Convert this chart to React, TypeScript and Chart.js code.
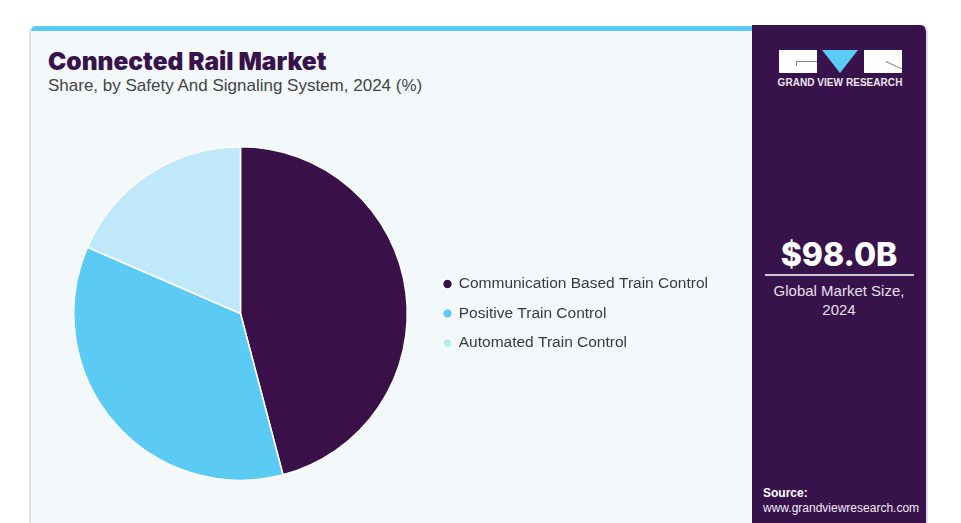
import React, { useEffect, useRef } from "react";
import { Chart, registerables } from "chart.js";

Chart.register(...registerables);

const categories = [
  "Communication Based Train Control",
  "Positive Train Control",
  "Automated Train Control",
];
const shares = [45.9, 35.6, 18.5];
const sliceColors = ["#3a1049", "#5bcaf5", "#bfe9f9"];

const titleText = "Connected Rail Market";
const subtitleText = "Share, by Safety And Signaling System, 2024 (%)";
const marketValue = "$98.0B";
const marketLabel = ["Global Market Size,", "2024"];
const sourceLabel = "Source:";
const sourceUrl = "www.grandviewresearch.com";

const PANEL = "#38124a";
const SANS = '"Liberation Sans", Arial, sans-serif';

export default function App() {
  const canvasRef = useRef<HTMLCanvasElement | null>(null);

  useEffect(() => {
    if (!canvasRef.current) return;
    const chart = new Chart(canvasRef.current, {
      type: "pie",
      data: {
        labels: categories,
        datasets: [
          {
            data: shares,
            backgroundColor: sliceColors,
            borderColor: "#ffffff",
            borderWidth: 1.5,
          },
        ],
      },
      options: {
        responsive: false,
        animation: false,
        devicePixelRatio: 1,
        layout: { padding: 0 },
        plugins: {
          tooltip: { enabled: false },
          legend: {
            position: "right",
            align: "center",
            labels: {
              usePointStyle: true,
              pointStyle: "circle",
              boxWidth: 7,
              boxHeight: 7,
              padding: 14,
              color: "#3a3a3a",
              font: { family: SANS, size: 15.5 },
            },
          },
        },
      },
    });
    return () => chart.destroy();
  }, []);

  return (
    <div
      style={{
        position: "fixed",
        left: 0,
        top: 0,
        width: 961,
        height: 523,
        overflow: "hidden",
        background: "#ffffff",
        fontFamily: SANS,
      }}
    >
      {/* card */}
      <div
        style={{
          position: "absolute",
          left: 29,
          top: 26,
          width: 740,
          height: 520,
          background: "#f3f8fb",
          borderLeft: "2px solid #dde2e6",
          borderTopLeftRadius: 6,
          overflow: "hidden",
        }}
      >
        <div
          style={{
            position: "absolute",
            left: 0,
            top: 0,
            width: "100%",
            height: 5,
            background: "#5bcaf5",
          }}
        />
      </div>
      {/* title */}
      <div
        style={{
          position: "absolute",
          left: 48,
          top: 46,
          fontFamily: "Inter, sans-serif",
          fontWeight: 900,
          fontSize: 24.5,
          color: "#38124a",
          whiteSpace: "nowrap",
          lineHeight: "30px",
        }}
      >
        {titleText}
      </div>
      <div
        style={{
          position: "absolute",
          left: 48,
          top: 76,
          fontSize: 17,
          color: "#444",
          whiteSpace: "nowrap",
          lineHeight: "20px",
        }}
      >
        {subtitleText}
      </div>

      <canvas
        ref={canvasRef}
        width={667}
        height={335}
        style={{ position: "absolute", left: 51, top: 146, width: 667, height: 335 }}
      />

      {/* right panel */}
      <div
        style={{
          position: "absolute",
          left: 752,
          top: 25,
          width: 174,
          height: 520,
          background: PANEL,
          borderTopRightRadius: 7,
          borderRight: "2px solid #e4dcea",
        }}
      />
      {/* logo */}
      <div style={{ position: "absolute", left: 779, top: 50, width: 38, height: 23, background: "#fff" }}>
        <div style={{ position: "absolute", left: 17, top: 11, width: 21, height: 1, background: "#8a8a8a" }} />
        <div style={{ position: "absolute", left: 17, top: 11, width: 1, height: 5, background: "#8a8a8a" }} />
      </div>
      <div
        style={{
          position: "absolute",
          left: 822,
          top: 50,
          width: 0,
          height: 0,
          borderLeft: "18px solid transparent",
          borderRight: "18px solid transparent",
          borderTop: "23px solid #5bcaf5",
        }}
      />
      <div style={{ position: "absolute", left: 864, top: 50, width: 38, height: 23, background: "#fff", overflow: "hidden" }}>
        <div
          style={{
            position: "absolute",
            left: 22,
            top: 11,
            width: 18,
            height: 1,
            background: "#8a8a8a",
            transform: "rotate(25deg)",
            transformOrigin: "0 0",
          }}
        />
      </div>
      <div
        style={{
          position: "absolute",
          left: 752,
          top: 76,
          width: 176,
          textAlign: "center",
          fontSize: 10,
          fontWeight: 700,
          letterSpacing: 0.05,
          color: "#ece6f2",
          whiteSpace: "nowrap",
          lineHeight: "14px",
        }}
      >
        GRAND VIEW RESEARCH
      </div>

      <div
        style={{
          position: "absolute",
          left: 752,
          top: 235,
          width: 174,
          textAlign: "center",
          fontFamily: "Inter, sans-serif",
          fontWeight: 800,
          fontSize: 32,
          color: "#ffffff",
          lineHeight: "40px",
        }}
      >
        {marketValue}
      </div>
      <div style={{ position: "absolute", left: 765, top: 274, width: 149, height: 2, background: "#cfc4d8" }} />
      <div
        style={{
          position: "absolute",
          left: 752,
          top: 281,
          width: 174,
          textAlign: "center",
          fontSize: 15,
          color: "#e6e0ec",
          lineHeight: "19px",
        }}
      >
        {marketLabel[0]}
        <br />
        {marketLabel[1]}
      </div>
      <div
        style={{
          position: "absolute",
          left: 763,
          top: 486,
          fontSize: 12,
          fontWeight: 700,
          color: "#ffffff",
          lineHeight: "15px",
        }}
      >
        {sourceLabel}
      </div>
      <div
        style={{
          position: "absolute",
          left: 763,
          top: 501,
          fontSize: 12,
          color: "#f0ecf4",
          lineHeight: "15px",
        }}
      >
        {sourceUrl}
      </div>
    </div>
  );
}
